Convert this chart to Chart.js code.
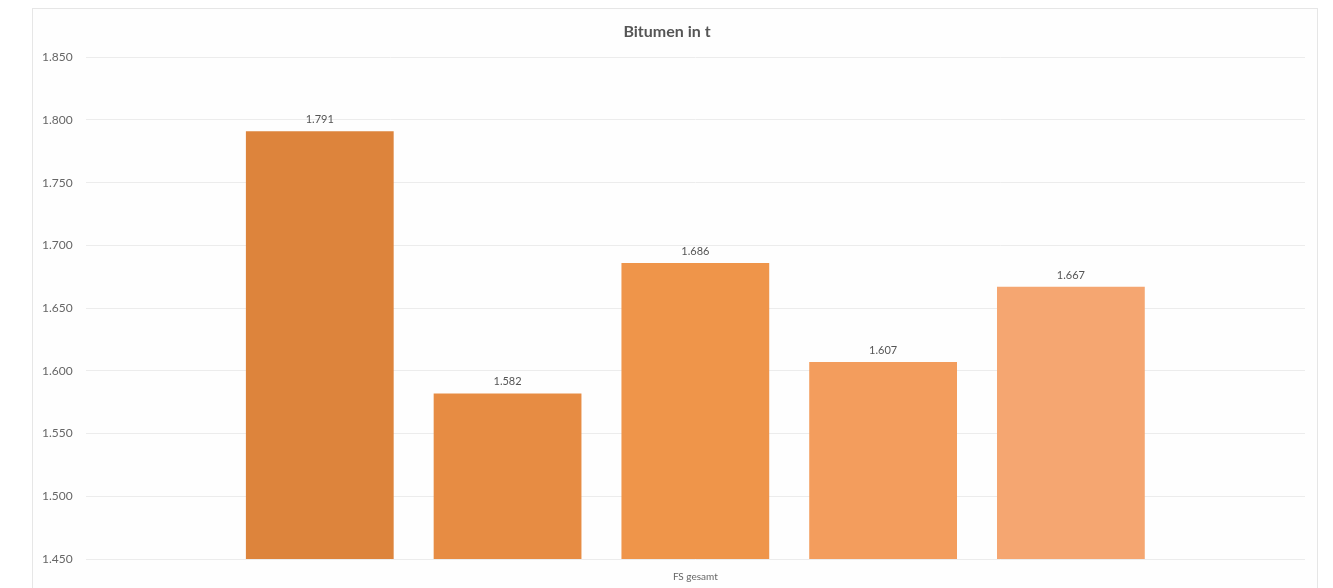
<!DOCTYPE html>
<html>
<head>
<meta charset="utf-8">
<script src="https://cdn.jsdelivr.net/npm/chart.js@4/dist/chart.umd.min.js"></script>
<style>
  html, body { margin: 0; padding: 0; background: #ffffff; }
  #box {
    position: absolute; left: 32px; top: 8px;
    width: 1286px; height: 600px;
    border: 1px solid #e6e6e6; box-sizing: border-box;
    background: #fefefe;
  }
  #wrap { position: absolute; left: 0; top: 0; width: 1284px; height: 580px; }
</style>
</head>
<body>
<div id="box"><div id="wrap"><canvas id="chart"></canvas></div></div>
<script>
// Daten
const categories = ['FS gesamt'];
const seriesNames = ['Reihe 1', 'Reihe 2', 'Reihe 3', 'Reihe 4', 'Reihe 5'];
const seriesValues = [1791, 1582, 1686, 1607, 1667];
const seriesColors = ['#dd843c', '#e78c43', '#ef954a', '#f39d5d', '#f5a671'];
const yMin = 1450, yMax = 1850, yStep = 50;

const fmt = v => v.toLocaleString('de-DE');
const FONT = 'Lato, "DejaVu Sans", sans-serif';

// Werte über den Balken zeichnen
const valueLabels = {
  id: 'valueLabels',
  afterDatasetsDraw(chart) {
    const ctx = chart.ctx;
    ctx.save();
    ctx.font = '11px ' + FONT;
    ctx.fillStyle = '#555';
    ctx.textAlign = 'center';
    ctx.textBaseline = 'bottom';
    chart.data.datasets.forEach((ds, i) => {
      chart.getDatasetMeta(i).data.forEach((bar, j) => {
        ctx.fillText(fmt(ds.data[j]), bar.x, bar.y - 6);
      });
    });
    ctx.restore();
  }
};

const datasets = seriesNames.map((name, i) => ({
  label: name,
  data: [seriesValues[i]],
  backgroundColor: seriesColors[i],
  borderWidth: 0,
  categoryPercentage: 0.77,
  barPercentage: 0.787
}));

new Chart(document.getElementById('chart'), {
  type: 'bar',
  data: { labels: categories, datasets: datasets },
  options: {
    responsive: true,
    maintainAspectRatio: false,
    animation: false,
    layout: { padding: { left: -4, right: 12, top: 8, bottom: 2 } },
    plugins: {
      legend: { display: false },
      tooltip: { enabled: false },
      title: {
        display: true,
        text: 'Bitumen in t',
        color: '#555',
        font: { family: FONT, size: 16, weight: 'bold' },
        padding: { top: 5, bottom: 16 }
      }
    },
    scales: {
      x: {
        grid: { display: false },
        border: { display: false },
        ticks: { color: '#666', font: { family: FONT, size: 10 }, padding: 4 }
      },
      y: {
        min: yMin, max: yMax,
        border: { display: false },
        grid: { color: '#ececec', drawTicks: false },
        ticks: {
          stepSize: yStep,
          color: '#666',
          padding: 13,
          font: { family: FONT, size: 12 },
          callback: v => fmt(v)
        }
      }
    }
  },
  plugins: [valueLabels]
});
</script>
</body>
</html>
